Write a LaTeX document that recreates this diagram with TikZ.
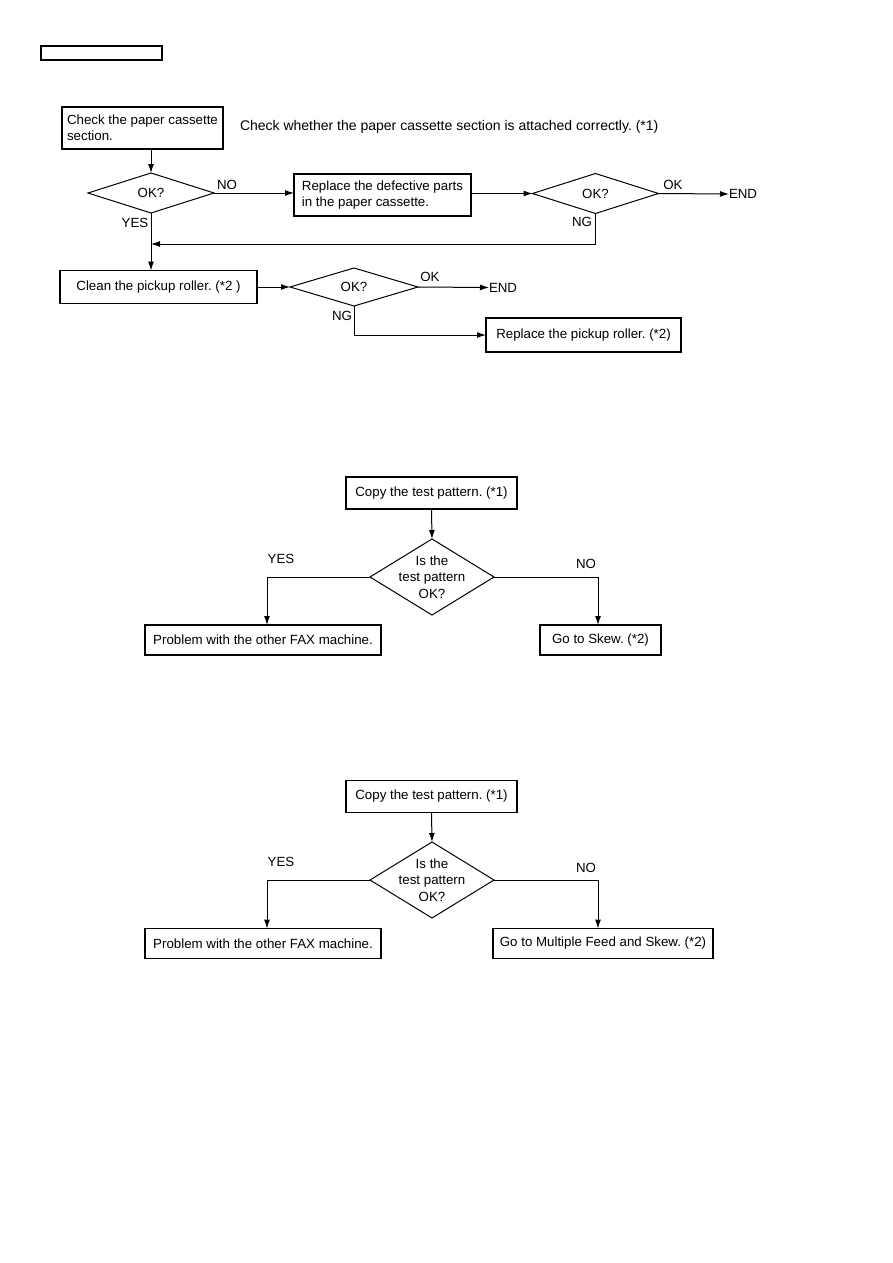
\documentclass[tikz,border=0pt]{standalone}
\usepackage{fontspec}
\setmainfont{Liberation Sans}
\usetikzlibrary{shapes.geometric,arrows.meta}
\tikzset{
  box/.style={draw,line width=1.2pt,inner sep=0pt,outer sep=0pt,align=center},
  lbox/.style={box,align=left},
  dia/.style={draw,diamond,line width=1pt,inner sep=0pt,outer sep=0pt,minimum width=126pt,minimum height=40pt},
  dia2/.style={draw,diamond,line width=1pt,inner sep=0pt,outer sep=0pt,minimum width=124pt,minimum height=76pt},
  lbl/.style={inner sep=0pt,outer sep=0pt},
  arr/.style={line width=1pt,-{Latex[length=9pt,width=6pt]}},
}
\begin{document}
\frenchspacing
\begin{tikzpicture}[x=1pt,y=-1pt,font=\fontsize{13.3}{16.3}\selectfont]
\useasboundingbox (0,0) rectangle (893,1263);
% header box
\node[box,minimum width=121pt,minimum height=14pt] (hdr) at (101.5,53) {};
% ---------- section 1
\node[lbox,minimum width=161pt,minimum height=42pt] (b1) at (142.5,128) {Check the paper cassette\\section.};
\node[lbl,anchor=west,font=\fontsize{14}{16}\selectfont] (note) at (240,127) {Check whether the paper cassette section is attached correctly. (*1)};
\node[dia] (d1) at (151,193) {};
\node[lbl] at (d1) {OK?};
\node[lbox,minimum width=177pt,minimum height=42pt] (b2) at (382.5,195) {Replace the defective parts\\in the paper cassette.};
\node[dia] (d2) at (595.5,193.5) {};
\node[lbl] at (d2) {OK?};
\node[lbl,anchor=west] (end1) at (729,194) {END};
\node[lbl] (no1) at (227,185) {NO};
\node[lbl] (yes1) at (135,223) {YES};
\node[lbl] (ok1) at (673,185) {OK};
\node[lbl] (ng1) at (582,222) {NG};
\coordinate (j1) at (151,244);

\node[box,minimum width=197pt,minimum height=33pt] (b3) at (158.5,287) {Clean the pickup roller. (*2 )};
\node[dia,minimum width=128pt,minimum height=38pt] (d3) at (354,287) {};
\node[lbl] at (d3) {OK?};
\node[lbl,anchor=west] (end2) at (489,287.5) {END};
\node[lbl] (ok2) at (430,277) {OK};
\node[lbl] (ng2) at (342,316) {NG};
\node[box,minimum width=195pt,minimum height=34pt] (b4) at (583.5,335) {Replace the pickup roller. (*2)};

\draw[arr] (d1.north |- b1.south) -- (d1.north);
\draw[arr] (d1.east) -- (d1.east -| b2.west);
\draw[arr] (b2.east |- d2.west) -- (d2.west);
\draw[arr] (d2.east) -- (end1.west);
\draw[arr] (d2.south) |- (j1);
\draw[arr] (d1.south) -- (d1.south |- b3.north);
\draw[arr] (b3.east) -- (d3.west);
\draw[arr] (d3.east) -- (end2.west);
\draw[arr] (d3.south) |- (b4.west);

% ---------- section 2
\node[box,minimum width=171pt,minimum height=32pt] (c1) at (431.5,493) {Copy the test pattern. (*1)};
\node[dia2] (e1) at (432,577) {};
\node[lbl,align=center] at (e1) {Is the\\test pattern\\OK?};
\node[lbl] (yes2) at (281,559) {YES};
\node[lbl] (no2) at (586,564) {NO};
\node[box,minimum width=236pt,minimum height=30pt] (p1) at (263,640) {Problem with the other FAX machine.};
\node[box,minimum width=121pt,minimum height=30pt] (s1) at (600.5,640) {Go to Skew. (*2)};
\draw[arr] (c1.south) -- (e1.north);
\draw[arr] (e1.west) -| ([xshift=4pt]p1.north);
\draw[arr] (e1.east) -| ([xshift=-2.5pt]s1.north);

% ---------- section 3
\node[box,minimum width=171pt,minimum height=32pt] (c2) at (431.5,796.5) {Copy the test pattern. (*1)};
\node[dia2] (e2) at (432,880) {};
\node[lbl,align=center] at (e2) {Is the\\test pattern\\OK?};
\node[lbl] (yes3) at (281,862) {YES};
\node[lbl] (no3) at (586,868) {NO};
\node[box,minimum width=236pt,minimum height=30pt] (p2) at (263,943.5) {Problem with the other FAX machine.};
\node[box,minimum width=220pt,minimum height=30pt] (s2) at (603,943.5) {Go to Multiple Feed and Skew. (*2)};
\draw[arr] (c2.south) -- (e2.north);
\draw[arr] (e2.west) -| ([xshift=4pt]p2.north);
\draw[arr] (e2.east) -| ([xshift=-5pt]s2.north);
\end{tikzpicture}
\end{document}
